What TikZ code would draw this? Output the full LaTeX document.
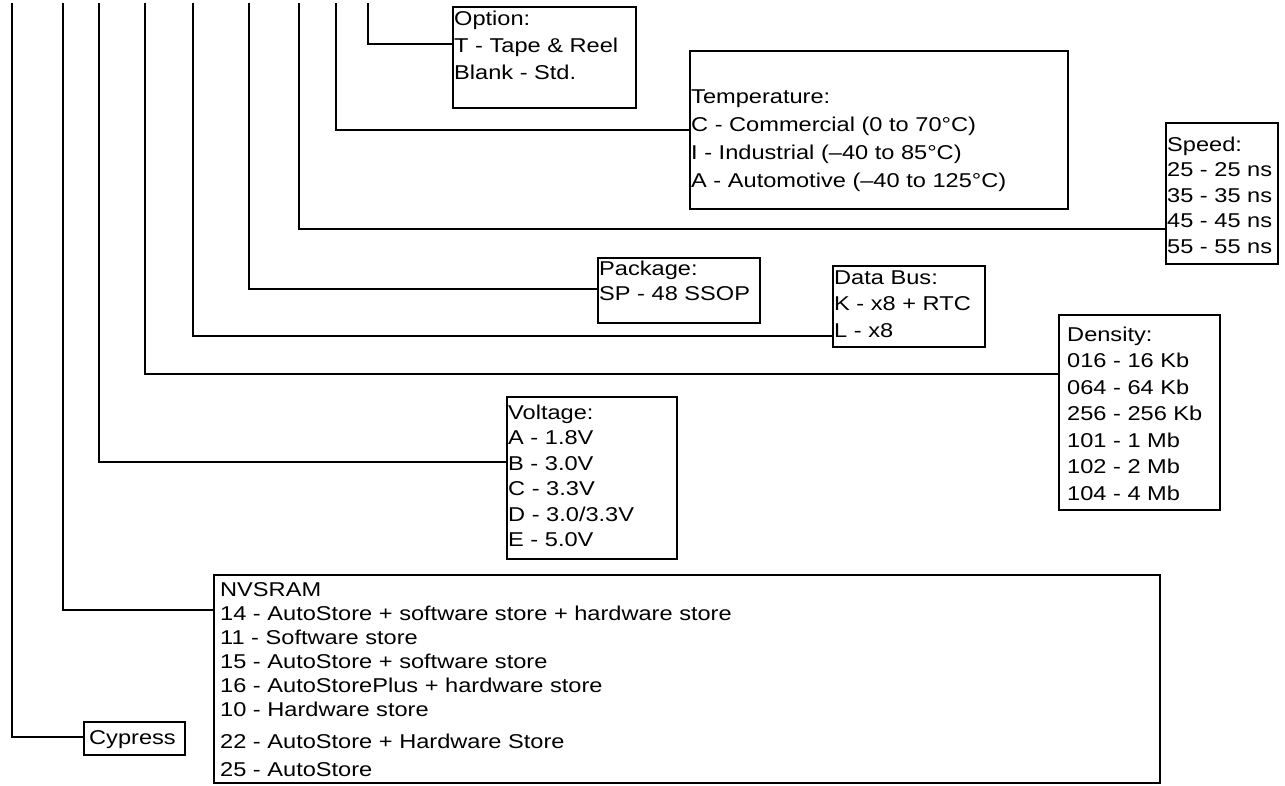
\documentclass[tikz,border=0pt]{standalone}
\usepackage{fontspec}
\setmainfont{Liberation Sans}[FakeStretch=1.18]
\begin{document}
\begin{tikzpicture}[x=1pt,y=-1pt,
  wire/.style={line width=2pt},
  box/.style={draw, line width=2.2pt, anchor=north west, inner sep=0pt},
  txt/.style={anchor=north west, inner sep=0pt, align=left},
]
\useasboundingbox (0,0) rectangle (1285,785);
% boxes
\node[box, minimum width=183pt, minimum height=101pt] (opt)  at (452,6) {};
\node[box, minimum width=378pt, minimum height=158pt] (temp) at (689,50) {};
\node[box, minimum width=112pt, minimum height=141pt] (spd)  at (1165,122) {};
\node[box, minimum width=162pt, minimum height=65pt]  (pkg)  at (597,257) {};
\node[box, minimum width=152pt, minimum height=81pt]  (bus)  at (832,265) {};
\node[box, minimum width=161pt, minimum height=195pt] (dens) at (1058,314) {};
\node[box, minimum width=170pt, minimum height=162pt] (volt) at (506,396) {};
\node[box, minimum width=946pt, minimum height=208pt] (nvs)  at (213,574) {};
\node[box, minimum width=101pt, minimum height=33pt]  (cyp)  at (83,721) {};
% texts
\node[txt, font=\fontsize{20}{27}\selectfont] (optT) at (454,5)
  {\rule{0pt}{20pt}Option:\\T - Tape \& Reel\\Blank - Std.};
\node[txt, font=\fontsize{20}{28}\selectfont] (tempT) at (691,83)
  {\rule{0pt}{20pt}Temperature:\\C - Commercial (0 to 70°C)\\I - Industrial (–40 to 85°C)\\A - Automotive (–40 to 125°C)};
\node[txt, font=\fontsize{20}{25.5}\selectfont] (spdT) at (1167,131)
  {\rule{0pt}{20pt}Speed:\\25 - 25 ns\\35 - 35 ns\\45 - 45 ns\\55 - 55 ns};
\node[txt, font=\fontsize{20}{25}\selectfont] (pkgT) at (599,255)
  {\rule{0pt}{20pt}Package:\\SP - 48 SSOP};
\node[txt, font=\fontsize{20}{26.5}\selectfont] (busT) at (834,264)
  {\rule{0pt}{20pt}Data Bus:\\K - x8 + RTC\\L - x8};
\node[txt, font=\fontsize{20}{26.5}\selectfont] (densT) at (1067,321)
  {\rule{0pt}{20pt}Density:\\016 - 16 Kb\\064 - 64 Kb\\256 - 256 Kb\\101 - 1 Mb\\102 - 2 Mb\\104 - 4 Mb};
\node[txt, font=\fontsize{20}{25.5}\selectfont] (voltT) at (508,399)
  {\rule{0pt}{20pt}Voltage:\\A - 1.8V\\B - 3.0V\\C - 3.3V\\D - 3.0/3.3V\\E - 5.0V};
\node[txt, font=\fontsize{20}{24}\selectfont] (nvsT) at (220,576)
  {\rule{0pt}{20pt}NVSRAM\\14 - AutoStore + software store + hardware store\\11 - Software store\\15 - AutoStore + software store\\16 - AutoStorePlus + hardware store\\10 - Hardware store\\[8pt]22 - AutoStore + Hardware Store\\[4pt]25 - AutoStore};
\node[txt, font=\fontsize{20}{24}\selectfont] (cypT) at (89,724)
  {\rule{0pt}{20pt}Cypress};
% connector coordinates
\coordinate (t1) at (368,3);  \coordinate (e1) at (452,44);
\coordinate (t2) at (336,3);  \coordinate (e2) at (689,130);
\coordinate (t3) at (299,3);  \coordinate (e3) at (1165,229);
\coordinate (t4) at (249,3);  \coordinate (e4) at (597,289);
\coordinate (t5) at (193,3);  \coordinate (e5) at (832,336);
\coordinate (t6) at (145,3);  \coordinate (e6) at (1058,374);
\coordinate (t7) at (99,3);   \coordinate (e7) at (506,462);
\coordinate (t8) at (63,3);   \coordinate (e8) at (213,610);
\coordinate (t9) at (12,3);   \coordinate (e9) at (83,737);
\foreach \i in {1,...,9} { \draw[wire] (t\i) |- (e\i); }
\end{tikzpicture}
\end{document}
